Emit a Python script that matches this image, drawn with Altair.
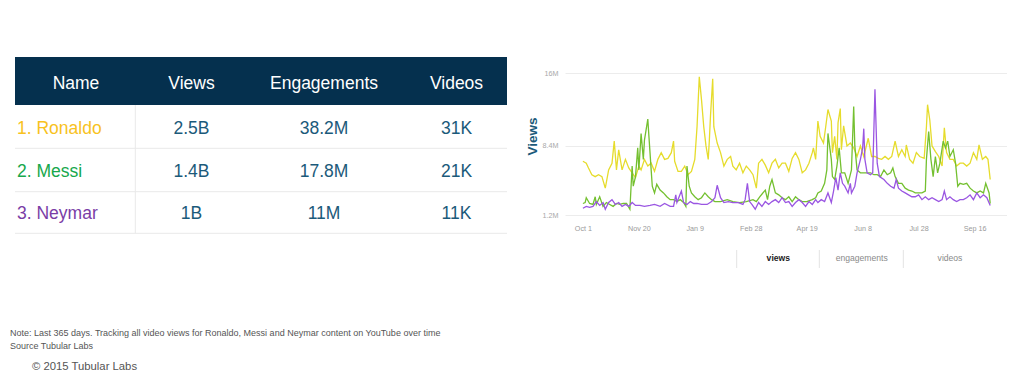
import altair as alt
import pandas as pd

# ---------------- table data ----------------
header_cols = ["Views", "Engagements", "Videos"]
players = ["1. Ronaldo", "2. Messi", "3. Neymar"]
player_colors = ["#f8c21e", "#17a84c", "#7a3da6"]
views = ["2.5B", "1.4B", "1B"]
engagements = ["38.2M", "17.8M", "11M"]
videos = ["31K", "21K", "11K"]

# ---------------- line data (daily views, millions; day 0 = 2014-10-01) ----------------
start_date = "2014-10-01"
ronaldo_days = [0,3,5,8,11,14,17,20,23,26,28,30,32,35,38,41,44,47,50,52,55,58,61,64,67,70,73,76,79,81,
                82,85,88,91,94,97,100,102,104,106,108,110,112,113,114,116,117,120,123,126,129,132,134,137,140,
                143,146,149,152,155,157,160,163,166,169,172,175,178,181,184,187,190,193,196,199,202,205,206,
                208,210,212,215,217,219,222,223,225,227,228,230,231,233,236,239,242,245,248,251,255,258,261,
                264,267,270,273,276,279,282,285,288,289,292,295,298,301,305,307,308,310,312,315,318,321,323,
                325,328,331,334,337,340,343,346,349,352,354,357,360,362,364]
ronaldo_views = [6.8,6.6,6.1,5.4,5.2,5.4,5.2,4.0,5.9,6.6,8.9,5.9,8.0,5.9,7.0,6.1,5.6,5.1,6.3,5.9,
                 7.0,6.3,6.6,5.75,7.0,7.7,7.0,7.1,7.7,8.9,6.8,5.75,5.75,6.3,5.4,5.75,7.0,10.4,15.6,13.2,
                 10.4,8.4,7.0,9.0,11.5,15.4,10.4,8.7,7.7,6.3,7.0,7.3,6.3,5.9,6.6,5.6,6.3,5.9,5.4,4.0,
                 6.6,7.0,6.4,5.6,6.6,7.0,6.1,6.6,6.6,5.75,7.1,7.7,7.0,5.6,5.9,6.6,7.7,8.2,7.0,11.0,
                 9.4,8.7,10.4,12.2,11.0,7.7,9.4,7.0,10.8,12.3,8.0,10.5,8.4,8.7,8.2,7.3,8.4,7.3,9.2,7.3,
                 7.3,7.1,7.0,7.3,7.0,7.3,8.9,7.3,8.0,7.3,8.5,7.0,6.6,7.7,7.3,7.1,10.4,12.7,11.1,8.4,
                 7.8,7.3,6.3,10.3,7.7,7.0,7.0,6.3,6.6,6.6,6.3,6.6,7.7,7.0,8.5,7.0,7.3,7.0,4.9]

messi_days = [0,2,3,6,9,11,12,15,18,21,24,27,30,33,36,39,42,44,45,47,49,50,52,54,55,58,59,61,62,64,
              66,69,72,75,78,81,84,87,90,92,93,95,97,100,103,106,109,112,115,118,123,129,134,140,146,152,
              155,158,163,165,167,169,172,175,178,181,184,187,190,193,196,200,205,208,210,213,216,218,219,
              222,223,225,227,229,231,234,237,240,242,243,245,248,251,254,257,260,263,266,269,272,275,277,
              279,282,285,288,291,294,297,300,303,306,307,309,311,313,315,317,319,322,324,326,328,331,333,
              335,337,340,343,346,349,352,355,358,360,363,364]
messi_views = [2.4,2.5,3.0,2.4,2.3,3.1,2.3,3.1,2.1,2.5,2.3,2.1,2.4,2.3,2.4,2.4,1.8,6.3,4.2,5.2,
               8.2,5.9,9.7,7.0,9.0,11.2,9.4,5.9,4.2,3.5,4.4,3.8,3.5,3.1,2.8,2.8,2.6,2.8,2.5,2.1,
               6.3,4.2,3.5,3.1,2.8,3.0,3.5,3.1,2.8,2.6,2.6,2.8,2.6,2.5,2.6,2.8,2.6,3.1,3.8,2.8,
               4.2,4.9,3.5,3.3,3.0,2.8,3.1,2.6,3.1,2.8,2.6,2.6,2.8,3.0,3.5,3.7,4.5,5.9,9.7,7.0,
               5.2,4.9,6.3,8.2,5.6,5.6,4.5,5.9,12.5,8.4,5.9,5.6,5.6,5.6,5.6,5.4,5.4,5.2,5.9,5.4,
               5.6,6.1,5.2,4.5,4.5,4.0,3.8,3.7,3.5,3.5,3.5,3.7,7.0,9.9,7.0,5.2,7.3,5.6,6.6,8.9,
               8.2,8.9,7.3,8.0,6.6,4.2,4.5,4.4,4.5,4.0,3.7,3.5,3.7,3.5,4.5,3.5,2.4]

neymar_days = [0,3,6,9,12,15,18,20,23,26,29,32,35,38,41,44,47,51,55,60,64,69,73,78,81,83,84,86,88,90,
               93,96,99,102,106,111,115,118,120,123,126,130,134,139,143,145,147,149,151,154,157,160,163,
               166,169,172,175,178,181,184,187,190,193,196,199,202,205,208,210,213,216,219,222,224,226,228,
               230,232,234,237,239,240,243,245,248,250,251,252,254,257,259,261,263,265,269,272,275,278,280,
               282,285,288,291,294,297,300,303,306,309,312,315,318,321,323,325,328,331,334,337,340,343,346,
               349,352,355,358,361,364]
neymar_views = [1.9,2.1,2.0,2.1,2.6,2.2,2.5,1.8,2.5,2.8,2.3,2.5,2.1,2.3,2.1,2.5,2.2,2.2,2.1,2.2,
                2.3,2.1,2.4,2.1,2.1,3.3,2.5,3.1,3.7,2.5,2.3,2.6,2.4,2.4,2.3,2.3,2.6,3.0,4.3,3.0,
                2.5,2.6,2.5,2.5,2.3,2.8,4.5,2.6,2.3,1.8,2.5,2.1,2.6,2.3,2.6,2.8,2.5,3.0,2.5,2.6,
                2.1,2.5,2.8,2.5,2.1,2.6,2.3,2.8,2.5,2.8,2.6,3.5,2.5,3.7,5.1,3.8,5.6,4.5,4.2,3.5,
                4.5,3.5,4.2,5.6,7.0,8.2,10.2,7.0,5.6,5.4,5.6,14.3,6.6,5.2,4.9,4.5,4.2,4.0,4.9,4.0,
                3.7,3.5,3.3,3.1,3.1,3.3,2.8,3.1,2.8,3.0,2.8,2.6,2.8,3.7,2.8,3.1,2.8,2.6,2.8,2.8,
                3.0,3.3,2.8,3.5,3.0,3.3,3.0,2.2]

line_colors = ["#e6dc2c", "#74c030", "#9a56e2"]
tick_dates = [(2014, 10, 1), (2014, 11, 20), (2015, 1, 9), (2015, 2, 28),
              (2015, 4, 19), (2015, 6, 8), (2015, 7, 28), (2015, 9, 16)]
y_ticks = [1.2e6, 8.4e6, 16e6]
tabs = ["views", "engagements", "videos"]
note_lines = ["Note: Last 365 days. Tracking all video views for Ronaldo, Messi and Neymar content on YouTube over time",
              "Source Tubular Labs"]
copyright_text = "© 2015 Tubular Labs"

FONT = "Liberation Sans"
TEAL = "#1b5a7a"
one = alt.Data(values=[{}])

# ---------------- table panel ----------------
TW, TH = 498, 176
row_y = alt.Y("player:N", axis=None,
              scale=alt.Scale(type="point", domain=players, range=[72, 157.3], padding=0))
col_x = alt.X("column:N", axis=None,
              scale=alt.Scale(type="point", domain=header_cols, range=[181.5, 446.5], padding=0))

header_bg = alt.Chart(one).mark_rect(color="#05304e").encode(
    x=alt.value(5), x2=alt.value(497), y=alt.value(0), y2=alt.value(48))
header_name = alt.Chart(one).mark_text(text="Name", color="white", fontSize=17.5, font=FONT).encode(
    x=alt.value(66), y=alt.value(26.5))
header_df = pd.DataFrame({"column": header_cols})
header_txt = alt.Chart(header_df).mark_text(color="white", fontSize=17.5, font=FONT).encode(
    x=col_x, y=alt.value(26.5), text="column:N")

names_df = pd.DataFrame({"player": players})
names_txt = alt.Chart(names_df).mark_text(align="left", fontSize=17.5, font=FONT).encode(
    x=alt.value(7), y=row_y, text="player:N",
    color=alt.Color("player:N", scale=alt.Scale(domain=players, range=player_colors), legend=None))

cells_df = pd.DataFrame({
    "player": players * 3,
    "column": ["Views"] * 3 + ["Engagements"] * 3 + ["Videos"] * 3,
    "text": views + engagements + videos,
})
cells_txt = alt.Chart(cells_df).mark_text(color=TEAL, fontSize=17.5, font=FONT).encode(
    x=col_x, y=row_y, text="text:N")

sep_layers = []
for yy in [91.3, 134.7, 176.3]:
    sep_layers.append(alt.Chart(one).mark_rule(color="#e9e9e9", strokeWidth=1).encode(
        x=alt.value(5), x2=alt.value(497), y=alt.value(yy)))
sep_layers.append(alt.Chart(one).mark_rule(color="#e9e9e9", strokeWidth=1).encode(
    x=alt.value(125.3), y=alt.value(48), y2=alt.value(176.3)))

note_layers = [
    alt.Chart(one).mark_text(text=note_lines[0], align="left", fontSize=9.0, color="#555", font=FONT).encode(
        x=alt.value(0), y=alt.value(276.3)),
    alt.Chart(one).mark_text(text=note_lines[1], align="left", fontSize=9.0, color="#555", font=FONT).encode(
        x=alt.value(0), y=alt.value(289)),
    alt.Chart(one).mark_text(text=copyright_text, align="left", fontSize=11.3, color="#555", font=FONT).encode(
        x=alt.value(22), y=alt.value(309.7)),
]

table = alt.layer(header_bg, header_name, header_txt, *sep_layers, names_txt, cells_txt,
                  *note_layers).properties(width=TW, height=TH)

# ---------------- line panel ----------------
LW, LH = 442, 158
base_date = pd.Timestamp(start_date)


def series_df(days, vals):
    return pd.DataFrame({
        "date": base_date + pd.to_timedelta(days, unit="D"),
        "views": [v * 1e6 for v in vals],
    })


x_enc = alt.X("date:T", title=None,
              scale=alt.Scale(domain=[alt.DateTime(year=2014, month=9, date=15),
                                      alt.DateTime(year=2015, month=10, date=15)]),
              axis=alt.Axis(values=[alt.DateTime(year=y, month=m, date=d) for (y, m, d) in tick_dates],
                            format="%b %-d", grid=False, ticks=False, domain=False,
                            labelColor="#9a9a9a", labelFontSize=7.2, labelPadding=9, labelFont=FONT))
y_enc = alt.Y("views:Q", title="Views",
              scale=alt.Scale(domain=[1.2e6, 17.67e6], nice=False, zero=False),
              axis=alt.Axis(values=y_ticks, grid=True, gridColor="#ececec",
                            labelExpr="format(datum.value / 1000000, '.1~f') + 'M'",
                            ticks=False, domain=False, labelColor="#a8a8a8", labelFontSize=7.2,
                            labelPadding=7, labelFont=FONT,
                            titleColor=TEAL, titleFontSize=13.5, titleFontWeight="bold", titleFont=FONT,
                            titleX=-33, titleY=79, titleAngle=270, titleAlign="center",
                            titleBaseline="middle"))

line_layers = []
for days, vals, col in [(ronaldo_days, ronaldo_views, line_colors[0]),
                        (messi_days, messi_views, line_colors[1]),
                        (neymar_days, neymar_views, line_colors[2])]:
    line_layers.append(alt.Chart(series_df(days, vals)).mark_line(
        color=col, strokeWidth=1.3, interpolate="linear").encode(x=x_enc, y=y_enc))

tab_layers = []
for xx in [171.7, 254.3, 338.3]:
    tab_layers.append(alt.Chart(one).mark_rule(color="#e3e3e3").encode(
        x=alt.value(xx), y=alt.value(193), y2=alt.value(211)))
for label, xx, bold, col in [(tabs[0], 213.3, "bold", "#222"),
                             (tabs[1], 296.7, "normal", "#8a8a8a"),
                             (tabs[2], 385, "normal", "#8a8a8a")]:
    tab_layers.append(alt.Chart(one).mark_text(text=label, fontSize=8.6, fontWeight=bold,
                                               color=col, font=FONT).encode(
        x=alt.value(xx), y=alt.value(201.3)))

lines = alt.layer(*line_layers, *tab_layers).properties(width=LW, height=LH)

chart = alt.hconcat(table, lines, spacing=57, bounds="flush").properties(
    padding={"left": 2, "top": 49, "right": 0, "bottom": 0}
).configure(font=FONT).configure_view(strokeWidth=0, stroke="transparent")

chart.save("out.html", embed_options={"renderer": "svg", "actions": False})
